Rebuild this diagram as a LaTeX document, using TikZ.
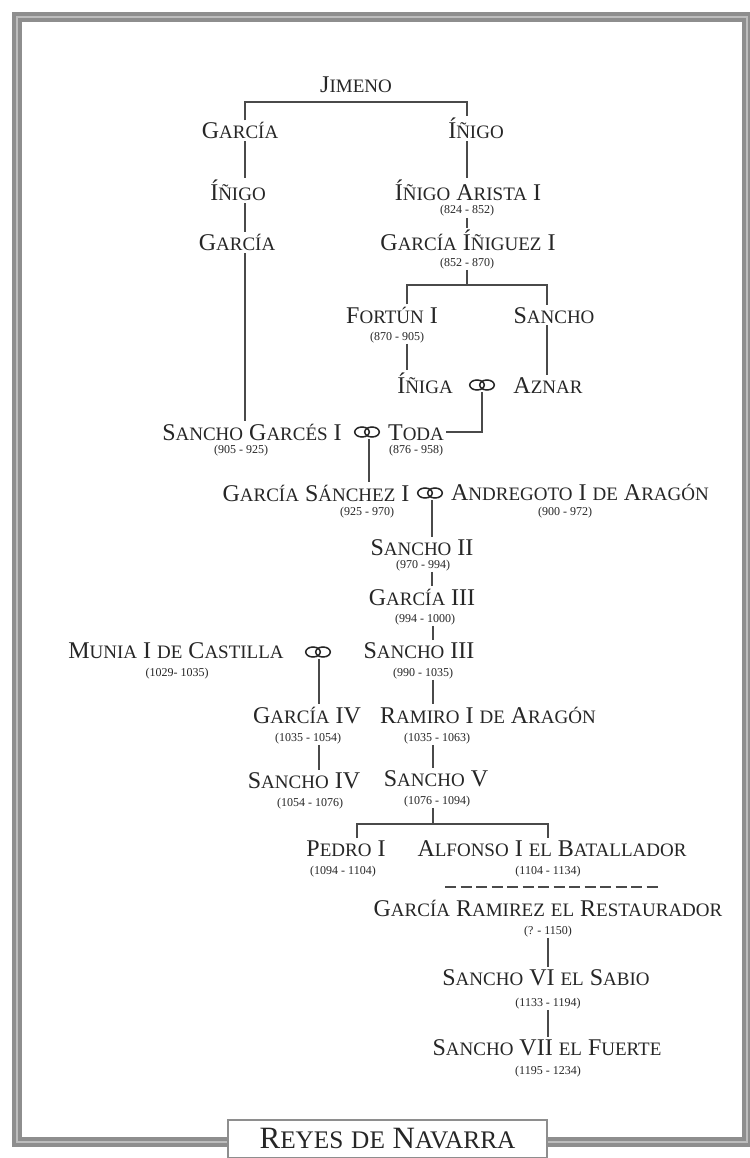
\documentclass[tikz,border=0pt]{standalone}
\usepackage{fontspec}
\setmainfont{Liberation Serif}
\usetikzlibrary{calc}
\definecolor{ink}{HTML}{262626}
\definecolor{wirec}{HTML}{4A4A4A}
\definecolor{frameg}{HTML}{8E8E8E}
\definecolor{framel}{HTML}{BDBDBD}
\newcommand\dropline[3]{\path ($(#1)+(#2,0)$) coordinate (dropA); \draw[wire] (dropA) -- (dropA |- #3);}
\newcommand\W[2]{#1{\scs #2}}
\begin{document}
\begin{tikzpicture}[x=1pt,y=-1pt,
  nm/.style={anchor=base, inner sep=2pt, text=ink, font=\fontsize{24}{24}\selectfont\def\scs{\fontsize{19}{19}\selectfont}},
  dt/.style={anchor=base, inner sep=1pt, text=ink, font=\fontsize{12}{12}\selectfont},
  wire/.style={draw=wirec, line width=1.6pt},
  ring/.style={minimum width=28pt, minimum height=14pt, inner sep=0pt,
    path picture={
      \draw[ink, line width=1.5pt] ($(path picture bounding box.center)+(-5,0)$) ellipse [x radius=7.3, y radius=5];
      \draw[ink, line width=1.5pt] ($(path picture bounding box.center)+(5,0)$) ellipse [x radius=7.3, y radius=5];
    }}]
\fill[white] (0,0) rectangle (749,1158);
\useasboundingbox (0,0) rectangle (749,1158);
% frame
\draw[frameg, line width=10pt] (17,17) rectangle (747,1142);
\draw[framel, line width=2pt] (17,17) rectangle (747,1142);

% names
\node[nm] (jimeno) at (356,93) {\W{J}{IMENO}};
\node[nm] (garciaA) at (240,139) {\W{G}{ARCÍA}};
\node[nm] (inigoA) at (238,201) {\W{Í}{ÑIGO}};
\node[nm] (garciaB) at (237,251) {\W{G}{ARCÍA}};
\node[nm] (inigoB) at (476,139) {\W{Í}{ÑIGO}};
\node[nm] (arista) at (468,201) {\W{Í}{ÑIGO} \W{A}{RISTA} I};
\node[dt] (aristaD) at (467,214) {(824 - 852)};
\node[nm] (iniguez) at (468,251) {\W{G}{ARCÍA} \W{Í}{ÑIGUEZ} I};
\node[dt] (iniguezD) at (467,266) {(852 - 870)};
\node[nm] (fortun) at (392,323) {\W{F}{ORTÚN} I};
\node[dt] (fortunD) at (397,340) {(870 - 905)};
\node[nm] (sanchoA) at (554,323) {\W{S}{ANCHO}};
\node[nm] (iniga) at (425,393) {\W{Í}{ÑIGA}};
\node[ring] (r1) at (482,385) {};
\node[nm] (aznar) at (548,393) {\W{A}{ZNAR}};
\node[nm] (sgarces) at (252,440) {\W{S}{ANCHO} \W{G}{ARCÉS} I};
\node[dt] (sgarcesD) at (241,453) {(905 - 925)};
\node[ring] (r2) at (367,432) {};
\node[nm] (toda) at (416,440) {\W{T}{ODA}};
\node[dt] (todaD) at (416,453) {(876 - 958)};
\node[nm] (gsanchez) at (316,501) {\W{G}{ARCÍA} \W{S}{ÁNCHEZ} I};
\node[dt] (gsanchezD) at (367,515) {(925 - 970)};
\node[ring] (r3) at (430,493) {};
\node[nm] (andregoto) at (580,500) {\W{A}{NDREGOTO} I \W{}{DE} \W{A}{RAGÓN}};
\node[dt] (andregotoD) at (565,515) {(900 - 972)};
\node[nm] (sanchoII) at (422,555) {\W{S}{ANCHO} II};
\node[dt] (sanchoIID) at (423,568) {(970 - 994)};
\node[nm] (garciaIII) at (422,605) {\W{G}{ARCÍA} III};
\node[dt] (garciaIIID) at (425,622) {(994 - 1000)};
\node[nm] (munia) at (176,658) {\W{M}{UNIA} I \W{}{DE} \W{C}{ASTILLA}};
\node[dt] (muniaD) at (177,676) {(1029- 1035)};
\node[ring] (r4) at (318,652) {};
\node[nm] (sanchoIII) at (419,658) {\W{S}{ANCHO} III};
\node[dt] (sanchoIIID) at (423,676) {(990 - 1035)};
\node[nm] (garciaIV) at (307,723) {\W{G}{ARCÍA} IV};
\node[dt] (garciaIVD) at (308,741) {(1035 - 1054)};
\node[nm] (ramiro) at (488,723) {\W{R}{AMIRO} I \W{}{DE} \W{A}{RAGÓN}};
\node[dt] (ramiroD) at (437,741) {(1035 - 1063)};
\node[nm] (sanchoIV) at (304,788) {\W{S}{ANCHO} IV};
\node[dt] (sanchoIVD) at (310,806) {(1054 - 1076)};
\node[nm] (sanchoV) at (436,786) {\W{S}{ANCHO} V};
\node[dt] (sanchoVD) at (437,804) {(1076 - 1094)};
\node[nm] (pedro) at (346,856) {\W{P}{EDRO} I};
\node[dt] (pedroD) at (343,874) {(1094 - 1104)};
\node[nm] (alfonso) at (552,856) {\W{A}{LFONSO} I \W{}{EL} \W{B}{ATALLADOR}};
\node[dt] (alfonsoD) at (548,874) {(1104 - 1134)};
\node[nm] (gramirez) at (548,916) {\W{G}{ARCÍA} \W{R}{AMIREZ} \W{}{EL} \W{R}{ESTAURADOR}};
\node[dt] (gramirezD) at (548,934) {(? - 1150)};
\node[nm] (sanchoVI) at (546,985) {\W{S}{ANCHO} VI \W{}{EL} \W{S}{ABIO}};
\node[dt] (sanchoVID) at (548,1006) {(1133 - 1194)};
\node[nm] (sanchoVII) at (547,1055) {\W{S}{ANCHO} VII \W{}{EL} \W{F}{UERTE}};
\node[dt] (sanchoVIID) at (548,1074) {(1195 - 1234)};

% connectors
\coordinate (jb) at (356,102);
\draw[wire] ($(garciaA.north)+(5,0)$) |- (jb) -| ($(inigoB.north)+(-9,0)$);
\dropline{garciaA.south}{5}{inigoA.north}
\dropline{inigoA.south}{7}{garciaB.north}
\dropline{garciaB.south}{8}{sgarces.north}
\dropline{inigoB.south}{-9}{arista.north}
\dropline{aristaD.south}{0}{iniguez.north}
\coordinate (fb) at (467,285);
\draw[wire] (iniguezD.south) -- (fb);
\draw[wire] ($(fortun.north)+(15,0)$) |- (fb) -| ($(sanchoA.north)+(-7,0)$);
\dropline{fortunD.south}{10}{iniga.north}
\dropline{sanchoA.south}{-7}{aznar.north}
\draw[wire] (r1.south) |- (toda.east);
\dropline{r2.south}{2}{gsanchez.north}
\dropline{r3.south}{2}{sanchoII.north}
\dropline{sanchoIID.south}{9}{garciaIII.north}
\dropline{garciaIIID.south}{8}{sanchoIII.north}
\dropline{r4.south}{1}{garciaIV.north}
\dropline{sanchoIIID.south}{10}{ramiro.north}
\dropline{garciaIVD.south}{11}{sanchoIV.north}
\dropline{ramiroD.south}{-4}{sanchoV.north}
\coordinate (pb) at (433,824);
\draw[wire] ($(sanchoVD.south)+(-4,0)$) -- (pb);
\draw[wire] ($(pedro.north)+(11,0)$) |- (pb) -| ($(alfonso.north)+(-4,0)$);
\coordinate (d1) at (445,887);
\coordinate (d2) at (662,887);
\draw[wire, dash pattern=on 11pt off 4.5pt] (d1) -- (d2);
\dropline{gramirezD.south}{0}{sanchoVI.north}
\dropline{sanchoVID.south}{0}{sanchoVII.north}

% title
\node[draw=frameg, line width=1.2pt, fill=white, minimum width=319pt, minimum height=38pt, inner sep=0pt, text=ink, font=\fontsize{31}{31}\selectfont\def\scs{\fontsize{25.3}{25.3}\selectfont}] (title) at (387.5,1139) {\W{R}{EYES} \W{}{DE} \W{N}{AVARRA}};
\end{tikzpicture}
\end{document}
